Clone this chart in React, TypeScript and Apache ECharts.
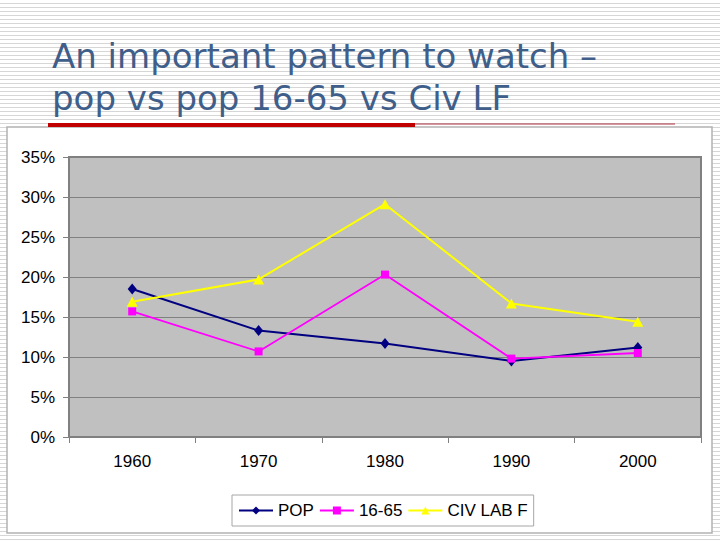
import React, { useEffect, useRef } from "react";
import * as echarts from "echarts";

const categories = ["1960", "1970", "1980", "1990", "2000"];
const popValues = [18.5, 13.3, 11.7, 9.5, 11.2];
const workingAgeValues = [15.7, 10.7, 20.3, 9.8, 10.5];
const civLabourValues = [16.9, 19.7, 29.1, 16.7, 14.4];
const seriesNames = ["POP", "16-65", "CIV LAB F"];
const titleLines = ["An important pattern to watch –", "pop vs pop 16-65 vs Civ LF"];

export default function App() {
  const ref = useRef<HTMLDivElement>(null);

  useEffect(() => {
    document.body.style.margin = "0";
    if (!ref.current) return;
    const chart = echarts.init(ref.current, undefined, { renderer: "svg" });
    const axisFont = "'Liberation Sans', Arial, sans-serif";
    chart.setOption({
      animation: false,
      graphic: [
        {
          type: "rect",
          z: -10,
          shape: { x: 7, y: 127, width: 705, height: 406 },
          style: { fill: "#ffffff", stroke: "#b2b2b2", lineWidth: 1.5 },
        },
        {
          type: "text",
          x: 52,
          y: 56,
          style: {
            text: titleLines[0],
            fill: "#3F5F8A",
            font: "34px 'DejaVu Sans', Verdana, sans-serif",
            verticalAlign: "middle",
          },
        },
        {
          type: "text",
          x: 52,
          y: 98,
          style: {
            text: titleLines[1],
            fill: "#3F5F8A",
            font: "34px 'DejaVu Sans', Verdana, sans-serif",
            verticalAlign: "middle",
          },
        },
        {
          type: "rect",
          shape: { x: 48, y: 123, width: 367, height: 4 },
          style: { fill: "#C00000" },
        },
        {
          type: "line",
          shape: { x1: 415, y1: 124, x2: 675, y2: 124 },
          style: { stroke: "#B03040", lineWidth: 1 },
        },
      ],
      grid: {
        left: 69,
        top: 157,
        width: 632,
        height: 280,
        show: true,
        backgroundColor: "#C0C0C0",
        borderColor: "#808080",
        borderWidth: 2,
      },
      legend: {
        data: seriesNames,
        left: 232,
        top: 495,
        orient: "horizontal",
        padding: [7, 6],
        itemGap: 5,
        itemWidth: 34,
        itemHeight: 10,
        borderColor: "#a6a6a6",
        borderWidth: 1,
        backgroundColor: "#ffffff",
        textStyle: { fontSize: 17, color: "#000000", fontFamily: axisFont },
      },
      xAxis: {
        type: "category",
        data: categories,
        boundaryGap: true,
        axisLine: { show: true, lineStyle: { color: "#808080", width: 1 } },
        axisTick: { show: true, length: 6, lineStyle: { color: "#808080" } },
        axisLabel: { margin: 16, fontSize: 17, color: "#000000", fontFamily: axisFont },
        splitLine: { show: false },
      },
      yAxis: {
        type: "value",
        min: 0,
        max: 35,
        interval: 5,
        axisLine: { show: true, lineStyle: { color: "#808080", width: 1 } },
        axisTick: { show: true, length: 6, lineStyle: { color: "#808080" } },
        axisLabel: {
          margin: 14,
          fontSize: 17,
          color: "#000000",
          fontFamily: axisFont,
          formatter: "{value}%",
        },
        splitLine: { show: true, lineStyle: { color: "#808080", width: 1 } },
      },
      series: [
        {
          name: seriesNames[0],
          type: "line",
          data: popValues,
          symbol: "diamond",
          symbolSize: [9, 11],
          lineStyle: { color: "#000080", width: 2 },
          itemStyle: { color: "#000080" },
        },
        {
          name: seriesNames[1],
          type: "line",
          data: workingAgeValues,
          symbol: "rect",
          symbolSize: 8,
          lineStyle: { color: "#FF00FF", width: 1.8 },
          itemStyle: { color: "#FF00FF" },
        },
        {
          name: seriesNames[2],
          type: "line",
          data: civLabourValues,
          symbol: "triangle",
          symbolSize: [11, 10],
          lineStyle: { color: "#FFFF00", width: 2 },
          itemStyle: { color: "#FFFF00" },
        },
      ],
    });
    return () => chart.dispose();
  }, []);

  return (
    <div
      ref={ref}
      style={{
        position: "fixed",
        left: 0,
        top: 0,
        width: 720,
        height: 540,
        background:
          "repeating-linear-gradient(to bottom, #ffffff 0px, #ffffff 3px, #d6d6d6 3px, #d6d6d6 4px)",
      }}
    />
  );
}
